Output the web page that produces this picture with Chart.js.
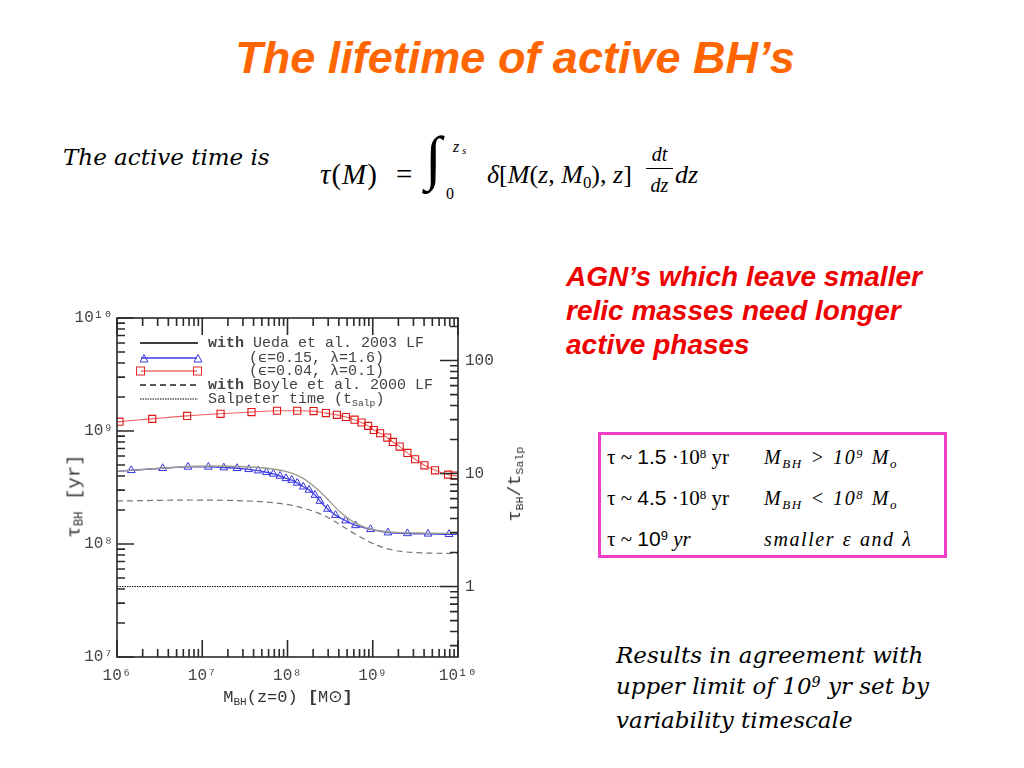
<!DOCTYPE html>
<html><head><meta charset="utf-8">
<script src="https://cdn.jsdelivr.net/npm/chart.js@4/dist/chart.umd.min.js"></script>
<style>
html,body{margin:0;padding:0;background:#fff}
body{width:1024px;height:768px;position:relative;overflow:hidden;font-family:'Liberation Sans',Arial,sans-serif}
.a{position:absolute;white-space:nowrap;line-height:1}
.ser{font-family:'Liberation Serif','Times New Roman',serif}
.dv{font-family:'DejaVu Serif',serif}
.mono{font-family:'Liberation Mono','DejaVu Sans Mono',monospace}
.sup{font-size:0.62em;position:relative;top:-0.5em}
.sub{font-size:0.65em;position:relative;top:0.28em}
.col2{font-family:'Liberation Serif','Times New Roman',serif;font-size:20px;font-style:italic;letter-spacing:1.6px;word-spacing:1px}
#chartBox{position:absolute;left:40px;top:300px;width:520px;height:420px}
</style></head><body>

<div class="a" style="left:0;width:1030px;text-align:center;top:32px;font:italic bold 45px 'Liberation Sans',Arial,sans-serif;color:#ff6600">The lifetime of active BH’s</div>

<div class="a dv" style="left:63px;top:146px;font-size:23px;font-style:italic;color:#000">The active time is</div>

<!-- formula -->
<div class="a ser" style="left:320px;top:160px;font-size:29px;letter-spacing:1px"><i>τ</i>(<i>M</i>)</div>
<div class="a ser" style="left:396px;top:160px;font-size:29px">=</div>
<div class="a ser" style="left:425px;top:128px;font-size:60px;font-style:italic">∫</div>
<div class="a ser" style="left:453px;top:139px;font-size:16px;font-style:italic">z</div>
<div class="a ser" style="left:462px;top:145px;font-size:11px;font-style:italic">s</div>
<div class="a ser" style="left:446px;top:186px;font-size:16px">0</div>
<div class="a ser" style="left:487px;top:162px;font-size:26px"><i>δ</i>[<i>M</i>(<i>z</i>, <i>M</i><span class="sub">0</span>), <i>z</i>]</div>
<div class="a ser" style="left:646px;top:144px;width:27px;text-align:center;font-size:20px;font-style:italic">dt</div>
<div style="position:absolute;left:646px;top:168px;width:27px;height:1.3px;background:#000"></div>
<div class="a ser" style="left:646px;top:175px;width:27px;text-align:center;font-size:20px;font-style:italic">dz</div>
<div class="a ser" style="left:675px;top:162px;font-size:26px;font-style:italic">dz</div>

<!-- red statement -->
<div style="position:absolute;left:566px;top:260px;font:italic bold 28px/34px 'Liberation Sans',Arial,sans-serif;color:#ee0000;white-space:nowrap">AGN’s which leave smaller<br>relic masses need longer<br>active phases</div>

<!-- magenta box -->
<div style="position:absolute;left:598px;top:432px;width:349px;height:126px;box-sizing:border-box;border:3px solid #ee3ec8"></div>
<div class="a ser" style="left:607px;top:446px;font-size:21px">τ ~ <span style="font-family:'Liberation Sans',Arial">1.5</span> ·10<span class="sup">8</span> yr</div>
<div class="a col2" style="left:764px;top:447px">M<span class="sub">BH</span> &gt; 10<span class="sup">9</span> M<span class="sub">o</span></div>
<div class="a ser" style="left:607px;top:487px;font-size:21px">τ ~ <span style="font-family:'Liberation Sans',Arial">4.5</span> ·10<span class="sup">8</span> yr</div>
<div class="a col2" style="left:764px;top:488px">M<span class="sub">BH</span> &lt; 10<span class="sup">8</span> M<span class="sub">o</span></div>
<div class="a ser" style="left:607px;top:528px;font-size:21px">τ ~ <span style="font-family:'Liberation Sans',Arial">10<span class="sup">9</span></span> <i>yr</i></div>
<div class="a col2" style="left:764px;top:529px">smaller ε and λ</div>

<!-- bottom paragraph -->
<div class="dv" style="position:absolute;left:616px;top:640px;font-size:23px;line-height:31px;font-style:italic;white-space:nowrap">Results in agreement with<br>upper limit of 10<span class="sup">9</span> yr set by<br>variability timescale</div>

<!-- chart -->
<div id="chartBox"><canvas id="c"></canvas></div>

<!-- axis titles -->
<div class="a mono" style="left:75px;top:496px;font-size:19px;color:#333;transform:translate(-50%,-50%) rotate(-90deg)">τ<span class="sub">BH</span> [yr]</div>
<div class="a mono" style="left:515px;top:484px;font-size:18px;color:#333;transform:translate(-50%,-50%) rotate(-90deg)">τ<span class="sub">BH</span>/t<span class="sub">Salp</span></div>
<div class="a mono" style="left:288px;top:697px;font-size:17px;color:#333;transform:translate(-50%,-50%)">M<span class="sub">BH</span>(z=0) <b>[</b>M<span style="font-family:'DejaVu Sans'">⊙</span><b>]</b></div>

<!-- legend -->
<svg style="position:absolute;left:130px;top:330px" width="80" height="80">
  <line x1="10" y1="13" x2="68" y2="13" stroke="#000" stroke-width="1.3"/>
  <line x1="11" y1="28" x2="67" y2="28" stroke="#3b3be0" stroke-width="1.4"/>
  <polygon points="10,32 14,24.5 18,32" fill="none" stroke="#3b3be0" stroke-width="1"/>
  <polygon points="64,32 68,24.5 72,32" fill="none" stroke="#3b3be0" stroke-width="1"/>
  <line x1="11" y1="41" x2="67" y2="41" stroke="#e02a2a" stroke-width="1.2"/>
  <rect x="6.5" y="37" width="8" height="8" fill="none" stroke="#e02a2a" stroke-width="1"/>
  <rect x="63.5" y="37" width="8" height="8" fill="none" stroke="#e02a2a" stroke-width="1"/>
  <line x1="10" y1="55" x2="68" y2="55" stroke="#222" stroke-width="1.3" stroke-dasharray="6,4"/>
  <line x1="10" y1="69" x2="68" y2="69" stroke="#000" stroke-width="1" stroke-dasharray="1.5,1"/>
</svg>
<div class="a mono" style="left:208px;top:336px;font-size:15px;color:#444"><b>with</b> Ueda et al. 2003 LF</div>
<div class="a mono" style="left:249px;top:351px;font-size:15px;color:#444">(ϵ=0.15, λ=1.6)</div>
<div class="a mono" style="left:249px;top:364px;font-size:15px;color:#444">(ϵ=0.04, λ=0.1)</div>
<div class="a mono" style="left:208px;top:378px;font-size:15px;color:#444"><b>with</b> Boyle et al. 2000 LF</div>
<div class="a mono" style="left:208px;top:392px;font-size:15px;color:#444">Salpeter time (t<span class="sub">Salp</span>)</div>

<script>
// ---- data (M_BH in solar masses, tau in years) ----
const tSalp = 4.2e7;

const redMass = [1e6, 1.07e6, 2.59e6, 6.65e6, 1.64e7, 3.78e7, 7.53e7, 1.30e8, 2.02e8, 2.82e8, 3.80e8, 4.84e8, 6.11e8, 7.38e8, 8.83e8, 1.03e9, 1.22e9, 1.48e9, 1.72e9, 2.07e9, 2.55e9, 3.14e9, 4.04e9, 5.38e9, 7.64e9, 9.14e9, 1e10];
const redTau  = [1.20e9, 1.21e9, 1.28e9, 1.36e9, 1.42e9, 1.47e9, 1.51e9, 1.51e9, 1.50e9, 1.44e9, 1.39e9, 1.33e9, 1.26e9, 1.19e9, 1.11e9, 1.02e9, 9.55e8, 8.75e8, 8.00e8, 7.28e8, 6.40e8, 5.62e8, 4.97e8, 4.49e8, 4.11e8, 4.03e8, 3.98e8];

const blueMass = [1e6, 1.47e6, 3.43e6, 6.78e6, 1.18e7, 1.79e7, 2.56e7, 3.51e7, 4.52e7, 5.65e7, 6.82e7, 8.17e7, 9.59e7, 1.12e8, 1.30e8, 1.53e8, 1.79e8, 2.10e8, 2.40e8, 2.95e8, 3.66e8, 4.80e8, 6.28e8, 9.42e8, 1.51e9, 2.55e9, 4.46e9, 7.85e9, 1e10];
const blueTau  = [4.37e8, 4.49e8, 4.68e8, 4.81e8, 4.81e8, 4.74e8, 4.68e8, 4.58e8, 4.46e8, 4.31e8, 4.17e8, 4.00e8, 3.81e8, 3.68e8, 3.47e8, 3.21e8, 3.01e8, 2.71e8, 2.40e8, 2.04e8, 1.80e8, 1.61e8, 1.46e8, 1.35e8, 1.26e8, 1.24e8, 1.23e8, 1.22e8, 1.22e8];

const uedaMass = [1e6, 1.18e7, 4.76e7, 9.77e7, 1.53e8, 2.19e8, 2.88e8, 4.12e8, 5.90e8, 8.45e8, 1.21e9, 2.07e9, 4.26e9, 1e10];
const uedaTau  = [4.40e8, 4.90e8, 4.74e8, 4.37e8, 3.81e8, 3.10e8, 2.54e8, 1.93e8, 1.57e8, 1.39e8, 1.31e8, 1.26e8, 1.25e8, 1.24e8];

const boyleMass = [1e6, 7.91e6, 4.76e7, 9.77e7, 1.67e8, 2.88e8, 4.51e8, 7.06e8, 1.11e9, 1.73e9, 2.97e9, 1e10];
const boyleTau  = [2.40e8, 2.45e8, 2.37e8, 2.24e8, 2.04e8, 1.74e8, 1.42e8, 1.16e8, 9.77e7, 8.83e7, 8.41e7, 8.24e7];

const salpMass = [1e6, 1e10];
const salpTau  = [tSalp, tSalp];

const xRange = [1e6, 1e10];
const yRange = [1e7, 1e10];
const rightTickLabels = [1, 10, 100];

// ---- helpers ----
const SUP = {'0':'⁰','1':'¹','2':'²','3':'³','4':'⁴','5':'⁵','6':'⁶','7':'⁷','8':'⁸','9':'⁹','-':'⁻'};
const pts = (xs, ys) => xs.map((x, i) => ({x, y: ys[i]}));
function isDecade(v){ const e = Math.log10(v); return Math.abs(e - Math.round(e)) < 1e-6; }
function powLabel(v){
  if (!isDecade(v)) return '';
  const e = String(Math.round(Math.log10(v)));
  return '10' + e.split('').map(c => SUP[c]).join('');
}
const hideEnds = (n, r) => ctx => (ctx.dataIndex === 0 || ctx.dataIndex === n - 1) ? 0 : r;

const tickFont = {family: "'Liberation Mono', 'DejaVu Sans Mono', monospace", size: 16};

const frameTicks = {
  id: 'frameTicks',
  afterDraw(chart){
    const {ctx, chartArea: a, scales} = chart;
    const x = scales.x, y = scales.y, y2 = scales.y2;
    const list = (lo, hi) => {
      const out = [];
      for (let e = Math.floor(Math.log10(lo)) - 1; e <= Math.ceil(Math.log10(hi)); e++) {
        for (let k = 1; k <= 9; k++) {
          const v = k * Math.pow(10, e);
          if (v >= lo * 0.9999 && v <= hi * 1.0001) out.push({v, major: k === 1});
        }
      }
      return out;
    };
    ctx.save();
    ctx.strokeStyle = '#2a2a2a';
    ctx.lineWidth = 1.6;
    ctx.beginPath();
    for (const t of list(x.min, x.max)) {
      const p = x.getPixelForValue(t.v), L = t.major ? 17 : 8;
      ctx.moveTo(p, a.bottom); ctx.lineTo(p, a.bottom - L);
      ctx.moveTo(p, a.top); ctx.lineTo(p, a.top + L);
    }
    for (const t of list(y.min, y.max)) {
      const p = y.getPixelForValue(t.v), L = t.major ? 17 : 8;
      ctx.moveTo(a.left, p); ctx.lineTo(a.left + L, p);
    }
    for (const t of list(y2.min, y2.max)) {
      const p = y2.getPixelForValue(t.v), L = t.major ? 18 : 8;
      ctx.moveTo(a.right, p); ctx.lineTo(a.right - L, p);
    }
    ctx.stroke();
    ctx.strokeRect(a.left, a.top, a.right - a.left, a.bottom - a.top);
    ctx.restore();
  }
};

new Chart(document.getElementById('c'), {
  type: 'line',
  data: {
    datasets: [
      {label: 'with Ueda et al. 2003 LF', data: pts(uedaMass, uedaTau), borderColor: '#9c9c8c', borderWidth: 1.3, pointRadius: 0, cubicInterpolationMode: 'monotone', yAxisID: 'y'},
      {label: 'with Boyle et al. 2000 LF', data: pts(boyleMass, boyleTau), borderColor: '#777', borderWidth: 1.2, borderDash: [6, 4], pointRadius: 0, cubicInterpolationMode: 'monotone', yAxisID: 'y'},
      {label: 'Salpeter time (tSalp)', data: pts(salpMass, salpTau), borderColor: '#111', borderWidth: 1, borderDash: [1.5, 1], pointRadius: 0, yAxisID: 'y'},
      {label: '(ϵ=0.15, λ=1.6)', data: pts(blueMass, blueTau), borderColor: '#4a4ae6', borderWidth: 1.4, cubicInterpolationMode: 'monotone',
        pointStyle: 'triangle', pointRadius: hideEnds(blueMass.length, 4.5), pointBorderColor: '#3535dd', pointBackgroundColor: 'rgba(0,0,0,0)', pointBorderWidth: 1, yAxisID: 'y'},
      {label: '(ϵ=0.04, λ=0.1)', data: pts(redMass, redTau), borderColor: '#f06060', borderWidth: 1.1, cubicInterpolationMode: 'monotone',
        pointStyle: 'rect', pointRadius: hideEnds(redMass.length, 5), pointBorderColor: '#dd1515', pointBackgroundColor: 'rgba(0,0,0,0)', pointBorderWidth: 1.1, yAxisID: 'y'}
    ]
  },
  options: {
    responsive: true, maintainAspectRatio: false, animation: false,
    layout: {padding: {top: 18, left: 0, right: 0, bottom: 0}},
    plugins: {legend: {display: false}, tooltip: {enabled: false}},
    scales: {
      x: {type: 'logarithmic', position: 'bottom', min: xRange[0], max: xRange[1],
        grid: {display: false, drawTicks: false}, border: {display: false},
        ticks: {autoSkip: false, maxRotation: 0, padding: 9, color: '#444', font: tickFont, callback: v => powLabel(v)},
        afterFit: s => { s.height = 63; }},
      y: {type: 'logarithmic', position: 'left', min: yRange[0], max: yRange[1],
        grid: {display: false, drawTicks: false}, border: {display: false},
        ticks: {autoSkip: false, padding: 4, color: '#444', font: tickFont, callback: v => powLabel(v)},
        afterFit: s => { s.width = 77; }},
      y2: {type: 'logarithmic', position: 'right', min: yRange[0] / tSalp, max: yRange[1] / tSalp,
        grid: {display: false, drawTicks: false}, border: {display: false},
        ticks: {autoSkip: false, padding: 7, color: '#444', font: tickFont,
          callback: v => rightTickLabels.some(r => Math.abs(r - v) < 1e-9 * r) ? String(Math.round(v)) : ''},
        afterFit: s => { s.width = 102; }}
    }
  },
  plugins: [frameTicks]
});
</script>
</body></html>
